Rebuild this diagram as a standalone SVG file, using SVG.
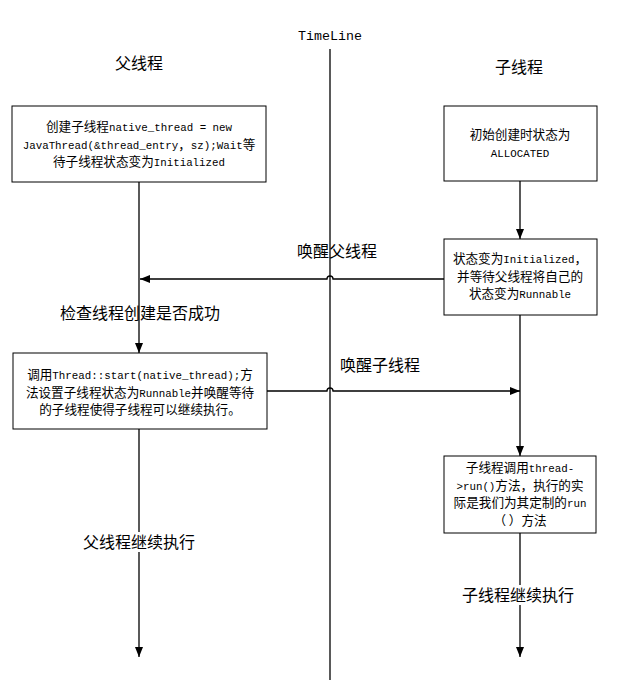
<svg xmlns="http://www.w3.org/2000/svg" width="621" height="680" viewBox="0 0 621 680">
<style>
.box{fill:#fff;stroke:#000;stroke-width:1}
.bt{font-family:"Noto Sans CJK SC","Liberation Sans",sans-serif;font-size:12.6px;fill:#000;text-anchor:middle}
.m{font-family:"Liberation Mono","Noto Sans CJK SC",monospace;font-size:10.8px}
.lb{font-family:"Noto Sans CJK SC","Liberation Sans",sans-serif;font-size:16px;fill:#000}
.c{fill:none;stroke:#000;stroke-width:1.3}
.tl{font-family:"Liberation Mono",monospace;font-size:13.3px;fill:#000;text-anchor:middle}
</style>
<defs>
<marker id="ah" markerWidth="10" markerHeight="8" refX="10" refY="4" orient="auto" markerUnits="userSpaceOnUse">
<path d="M0,0 L10,4 L0,8 z" fill="#000"/>
</marker>
</defs>
<rect width="621" height="680" fill="#fff"/>
<g id="timeline">
<line x1="330" y1="49" x2="330" y2="680" stroke="#000" stroke-width="1.3"/>
<text class="tl" x="330" y="40">TimeLine</text>
</g>
<g id="labels-top">
<text class="lb" x="115" y="69">父线程</text>
<text class="lb" x="495" y="73">子线程</text>
</g>
<g id="connectors">
<path class="c" d="M139,182 V353" marker-end="url(#ah)"/>
<path class="c" d="M520,181 V239" marker-end="url(#ah)"/>
<path class="c" d="M444,279 H333 a3,3 0 0 0 -6,0 H140" marker-end="url(#ah)"/>
<path class="c" d="M520,315 V456" marker-end="url(#ah)"/>
<path class="c" d="M267,391 H327 a3,3 0 0 1 6,0 H520" marker-end="url(#ah)"/>
<path class="c" d="M139,429 V657" marker-end="url(#ah)"/>
<path class="c" d="M520,533 V657" marker-end="url(#ah)"/>
</g>
<g id="edge-labels">
<text class="lb" x="297" y="257">唤醒父线程</text>
<text class="lb" x="60" y="319">检查线程创建是否成功</text>
<text class="lb" x="340" y="371">唤醒子线程</text>
<rect x="82" y="532" width="114" height="20" fill="#fff"/>
<text class="lb" x="83" y="548">父线程继续执行</text>
<rect x="461" y="585" width="114" height="20" fill="#fff"/>
<text class="lb" x="462" y="601">子线程继续执行</text>
</g>
<g id="box1">
<rect class="box" x="12" y="106" width="254" height="76"/>
<text class="bt"><tspan x="139" y="131">创建子线程<tspan class="m">native_thread = new</tspan></tspan><tspan x="139" y="148.5"><tspan class="m">JavaThread(&amp;thread_entry</tspan>，<tspan class="m">sz);Wait</tspan>等</tspan><tspan x="139" y="166">待子线程状态变为<tspan class="m">Initialized</tspan></tspan></text>
</g>
<g id="box2">
<rect class="box" x="444" y="106" width="153" height="75"/>
<text class="bt"><tspan x="520" y="139">初始创建时状态为</tspan><tspan x="520" y="157"><tspan class="m">ALLOCATED</tspan></tspan></text>
</g>
<g id="box3">
<rect class="box" x="13" y="353" width="254" height="76"/>
<text class="bt"><tspan x="140" y="379">调用<tspan class="m">Thread::start(native_thread);</tspan>方</tspan><tspan x="140" y="396.5">法设置子线程状态为<tspan class="m">Runnable</tspan>并唤醒等待</tspan><tspan x="140" y="414">的子线程使得子线程可以继续执行。</tspan></text>
</g>
<g id="box4">
<rect class="box" x="444" y="239" width="153" height="76"/>
<text class="bt"><tspan x="520" y="263">状态变为<tspan class="m">Initialized</tspan>，</tspan><tspan x="520" y="280.5">并等待父线程将自己的</tspan><tspan x="520" y="298">状态变为<tspan class="m">Runnable</tspan></tspan></text>
</g>
<g id="box5">
<rect class="box" x="444" y="456" width="152" height="77"/>
<text class="bt"><tspan x="520" y="472">子线程调用<tspan class="m">thread-</tspan></tspan><tspan x="520" y="489.5"><tspan class="m">&gt;run()</tspan>方法，执行的实</tspan><tspan x="520" y="507">际是我们为其定制的<tspan class="m">run</tspan></tspan><tspan x="520" y="524.5">（ ）方法</tspan></text>
</g>
</svg>
